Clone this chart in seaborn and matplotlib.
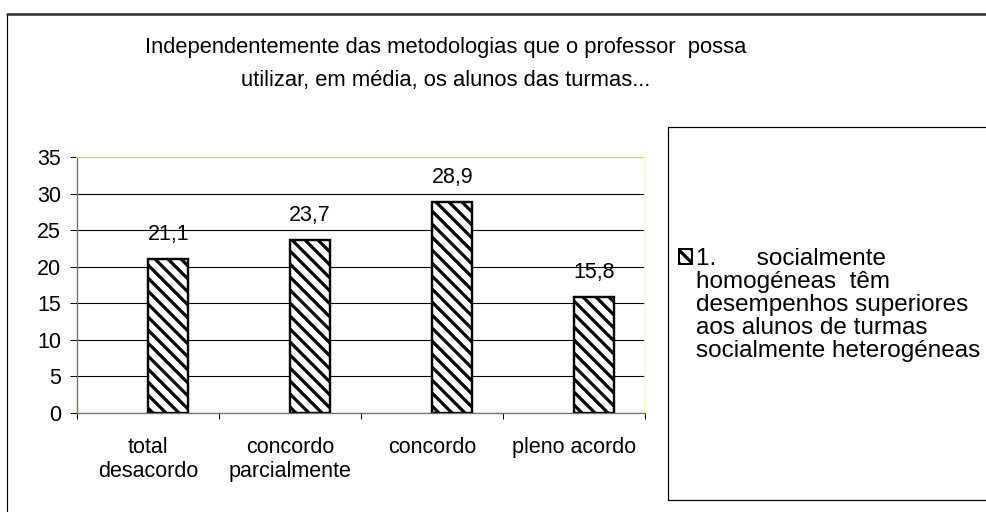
import numpy as np
import pandas as pd
import matplotlib.pyplot as plt
import seaborn as sns
from matplotlib.patches import Patch

# ---- data ----
categorias = ['total\ndesacordo', 'concordo\nparcialmente', 'concordo', 'pleno acordo']
valores = [21.1, 23.7, 28.9, 15.8]
serie = ('1.      socialmente\nhomogéneas  têm\ndesempenhos superiores\n'
         'aos alunos de turmas\nsocialmente heterogéneas')
serie_vazia = ' '  # empty slot left of each bar, as in the original spreadsheet chart
titulo = ('Independentemente das metodologias que o professor  possa\n'
          'utilizar, em média, os alunos das turmas...')
y_ticks = [0, 5, 10, 15, 20, 25, 30, 35]

# ---- sizes are thought of in pixels, converted to points ----
DPI = 78
W_PX, H_PX = 986, 512
def pt(px):
    return px * 72 / DPI

sns.set_theme(style='white')
plt.rcParams['font.family'] = ['Liberation Sans', 'DejaVu Sans']
plt.rcParams['text.color'] = 'black'
plt.rcParams['hatch.linewidth'] = pt(3.2)
plt.rcParams['hatch.color'] = 'black'

df = pd.DataFrame({'resposta': categorias, 'valor': valores, 'serie': serie})

fig = plt.figure(figsize=(W_PX / DPI, H_PX / DPI), dpi=DPI)
ax = fig.add_axes([77 / W_PX, 1 - 413 / H_PX, (645 - 77) / W_PX, (413 - 157) / H_PX])

sns.barplot(data=df, x='resposta', y='valor', hue='serie', hue_order=[serie_vazia, serie],
            palette=['white', 'white'], width=0.57, dodge=True, edgecolor='black',
            linewidth=pt(2.4), legend=False, errorbar=None, ax=ax)

for bar in ax.patches:
    bar.set_hatch('\\\\')

for cont in ax.containers:
    vals = cont.datavalues
    labs = ['' if np.isnan(v) else f'{v:.1f}'.replace('.', ',') for v in vals]
    ax.bar_label(cont, labels=labs, padding=pt(14), fontsize=pt(21.5), color='black')

ax.set_ylim(0, 35)
ax.set_yticks(y_ticks)
ax.set_xlim(-0.5, len(categorias) - 0.5)
ax.set_xticks(np.arange(-0.5, len(categorias)), minor=True)
ax.set_xlabel('')
ax.set_ylabel('')
ax.yaxis.grid(True, color='black', linewidth=pt(1.1))
ax.set_axisbelow(True)

ax.tick_params(axis='y', which='major', left=True, length=pt(7), width=pt(1), color='black',
               pad=pt(9), labelsize=pt(21.5), labelcolor='black')
ax.tick_params(axis='x', which='major', length=0, pad=pt(24), labelsize=pt(21.5), labelcolor='black')
ax.tick_params(axis='x', which='minor', bottom=True, length=pt(6), width=pt(1), color='black')
for lab in ax.get_xticklabels():
    lab.set_linespacing(1.17)

for s in ['left', 'bottom']:
    ax.spines[s].set_color('#77774f')
    ax.spines[s].set_linewidth(pt(1.3))
for s in ['top', 'right']:
    ax.spines[s].set_color('#ffffc8')
    ax.spines[s].set_linewidth(pt(1.6))

# title
fig.text(446 / W_PX, 1 - 64 / H_PX, titulo, ha='center', va='center', fontsize=pt(22),
         linespacing=1.72, color='black')

# chart outer frame and legend box (only the edges visible in the picture)
def fline(xs, ys, **kw):
    fig.add_artist(plt.Line2D([x / W_PX for x in xs], [1 - y / H_PX for y in ys],
                              transform=fig.transFigure, **kw))

fline([7, 7], [14, 512], color='black', lw=pt(1.2))
fline([7, 986], [14, 14], color='#333333', lw=pt(2.6))
fline([668, 668], [127, 500], color='black', lw=pt(1.2))
fline([668, 986], [127, 127], color='black', lw=pt(1.2))
fline([668, 986], [500, 500], color='black', lw=pt(1.2))

# legend: marker + first line, remaining lines stacked below it
linhas = serie.split('\n')
fs_leg = 24.3
handle = Patch(facecolor='white', edgecolor='black', hatch='\\\\', linewidth=pt(2))
leg = fig.legend([handle], [linhas[0]], loc='center left',
                 bbox_to_anchor=(679 / W_PX, 1 - 259 / H_PX), frameon=False,
                 fontsize=pt(fs_leg), borderpad=0, borderaxespad=0, labelcolor='black',
                 handlelength=13 / fs_leg, handleheight=13 / fs_leg, handletextpad=4 / fs_leg)
fig.canvas.draw()
t0 = leg.get_texts()[0]
x0, base0 = t0.get_transform().transform(t0.get_position())
for i, linha in enumerate(linhas[1:], start=1):
    fig.text(x0 / W_PX, (base0 - 23 * i) / H_PX, linha, ha='left', va='baseline',
             fontsize=pt(fs_leg), color='black')

fig.savefig('out.png', dpi=DPI, facecolor='white')
